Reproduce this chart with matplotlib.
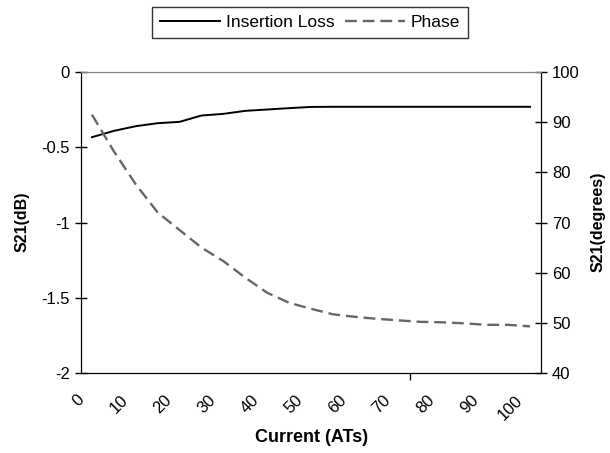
import matplotlib.pyplot as plt
from matplotlib.ticker import FixedLocator
from matplotlib.transforms import ScaledTranslation

plt.rcParams['font.family'] = ['Liberation Sans', 'DejaVu Sans']

# data (category axis: 0, 5, ..., 100 ATs)
current = [0, 5, 10, 15, 20, 25, 30, 35, 40, 45, 50,
           55, 60, 65, 70, 75, 80, 85, 90, 95, 100]
insertion_loss = [-0.433, -0.391, -0.360, -0.340, -0.331, -0.289, -0.278,
                  -0.258, -0.249, -0.240, -0.232, -0.231, -0.231, -0.231,
                  -0.231, -0.231, -0.231, -0.231, -0.231, -0.231, -0.231]
phase = [91.5, 84.2, 77.6, 72.0, 68.5, 65.0, 62.3, 59.0, 56.0, 54.0, 52.8,
         51.7, 51.2, 50.8, 50.5, 50.2, 50.1, 49.9, 49.6, 49.6, 49.3]
x_labels = ['0', '10', '20', '30', '40', '50', '60', '70', '80', '90', '100']

fig = plt.figure(figsize=(6.1, 4.53), dpi=100)
ax = fig.add_axes([0.1328, 0.1766, 0.7541, 0.6644])
ax2 = ax.twinx()

l1, = ax.plot(current, insertion_loss, color='black', lw=1.4, label='Insertion Loss')
l2, = ax2.plot(current, phase, color='#666666', lw=1.7, linestyle=(0, (5, 2.5)), label='Phase')

ax.set_xlim(-2.5, 102.5)
ax.set_ylim(-2, 0)
ax2.set_ylim(40, 100)
ax.set_yticks([0, -0.5, -1, -1.5, -2])
ax.set_yticklabels(['0', '-0.5', '-1', '-1.5', '-2'])
ax2.set_yticks([40, 50, 60, 70, 80, 90, 100])

ax.set_xticks(list(range(0, 101, 10)))
ax.set_xticklabels(x_labels, rotation=45, ha='right', va='top')
ax.xaxis.set_minor_locator(FixedLocator([72.5]))
ax.tick_params(axis='x', which='major', length=0, pad=14, labelsize=12)
ax.tick_params(axis='x', which='minor', direction='out', length=5, width=1)
off = ScaledTranslation(-0.05, 0, fig.dpi_scale_trans)
for lab in ax.get_xticklabels():
    lab.set_transform(lab.get_transform() + off)

ax.tick_params(axis='y', direction='inout', length=8, width=1, labelsize=12, pad=4)
ax2.tick_params(axis='y', direction='inout', length=8, width=1, labelsize=12, pad=4)

for a in (ax, ax2):
    a.spines['top'].set_color('#808080')
    a.spines['left'].set_color('black')
    a.spines['right'].set_color('black')
    a.spines['bottom'].set_color('black')

fig.text(0.036, 0.51, 'S21(dB)', rotation=90, fontsize=11.5, fontweight='bold',
         ha='center', va='center')
fig.text(0.980, 0.51, 'S21(degrees)', rotation=90, fontsize=11.5, fontweight='bold',
         ha='center', va='center')
fig.text(0.51, 0.035, 'Current (ATs)', fontsize=13, fontweight='bold',
         ha='center', va='center')

leg = fig.legend(handles=[l1, l2], loc='center', bbox_to_anchor=(0.508, 0.951),
                 ncol=2, frameon=True, fancybox=False, edgecolor='black',
                 fontsize=12.5, handlelength=3.5, handletextpad=0.3,
                 columnspacing=0.6, borderpad=0.45)
leg.get_frame().set_linewidth(1)

fig.savefig('out.png', dpi=100)
